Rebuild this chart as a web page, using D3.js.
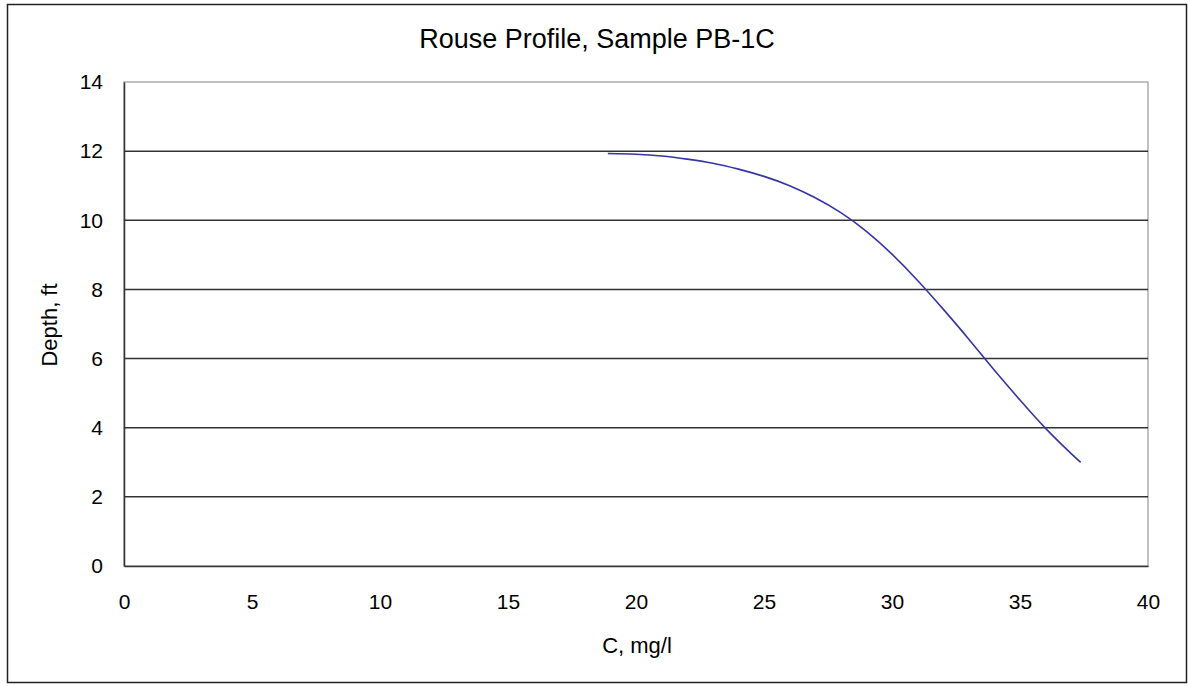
<!DOCTYPE html>
<html>
<head>
<meta charset="utf-8">
<script src="https://cdn.jsdelivr.net/npm/d3@7"></script>
<style>
  html, body { margin: 0; padding: 0; background: #fff; }
  svg { display: block; font-family: "Liberation Sans", Arial, sans-serif; }
</style>
</head>
<body>
<svg id="chart" width="1188" height="686"></svg>
<script>
// ---- data ----
const titleText = "Rouse Profile, Sample PB-1C";
const xLabel = "C, mg/l";
const yLabel = "Depth, ft";
const xTicks = [0, 5, 10, 15, 20, 25, 30, 35, 40];
const yTicks = [0, 2, 4, 6, 8, 10, 12, 14];
const concentration = [18.9, 20, 21, 22, 23, 24, 25, 26, 27, 28, 29, 30, 31, 32, 33, 34, 35, 36, 37, 37.37];
const depth =         [11.93, 11.91, 11.86, 11.77, 11.65, 11.48, 11.27, 11.0, 10.65, 10.22, 9.68, 9.02, 8.26, 7.43, 6.56, 5.66, 4.8, 3.98, 3.25, 3.0];

const svg = d3.select("#chart");
const plot = { left: 124, top: 82, right: 1148, bottom: 566 };

// outer frame
svg.append("rect")
  .attr("x", 7.5).attr("y", 4.5)
  .attr("width", 1179).attr("height", 678)
  .attr("fill", "#fff").attr("stroke", "#222").attr("stroke-width", 1.5);

const x = d3.scaleLinear().domain([0, 40]).range([plot.left, plot.right]);
const y = d3.scaleLinear().domain([0, 14]).range([plot.bottom, plot.top]);

// plot area border (top/right grey)
svg.append("rect")
  .attr("x", plot.left).attr("y", plot.top)
  .attr("width", plot.right - plot.left).attr("height", plot.bottom - plot.top)
  .attr("fill", "#fff").attr("stroke", "#a0a0a0").attr("stroke-width", 1.3);

// gridlines
svg.append("g")
  .selectAll("line")
  .data(yTicks.filter(d => d > 0 && d < 14))
  .join("line")
  .attr("x1", plot.left).attr("x2", plot.right)
  .attr("y1", d => y(d)).attr("y2", d => y(d))
  .attr("stroke", "#333").attr("stroke-width", 1.5);

// axes
const xAxis = svg.append("g")
  .attr("transform", `translate(0,${plot.bottom})`)
  .call(d3.axisBottom(x).tickValues(xTicks).tickSize(0).tickPadding(28).tickFormat(d3.format("d")));
xAxis.select(".domain").attr("stroke", "#333").attr("stroke-width", 1.5);
xAxis.selectAll("text").attr("font-size", 21).attr("fill", "#000")
  .attr("font-family", "Liberation Sans, Arial, sans-serif");

const yAxis = svg.append("g")
  .attr("transform", `translate(${plot.left},0)`)
  .call(d3.axisLeft(y).tickValues(yTicks).tickSize(0).tickPadding(21).tickFormat(d3.format("d")));
yAxis.select(".domain").attr("stroke", "#333").attr("stroke-width", 1.5);
yAxis.selectAll("text").attr("font-size", 21).attr("fill", "#000")
  .attr("font-family", "Liberation Sans, Arial, sans-serif");

// curve
const line = d3.line()
  .x((d, i) => x(concentration[i]))
  .y((d, i) => y(depth[i]))
  .curve(d3.curveNatural);
svg.append("path")
  .datum(depth)
  .attr("d", line)
  .attr("fill", "none")
  .attr("stroke", "#3535a5")
  .attr("stroke-width", 1.6);

// title
svg.append("text")
  .attr("x", 597).attr("y", 48)
  .attr("text-anchor", "middle")
  .attr("font-size", 27)
  .attr("fill", "#000")
  .text(titleText);

// x label
svg.append("text")
  .attr("x", 637).attr("y", 653)
  .attr("text-anchor", "middle")
  .attr("font-size", 22)
  .attr("fill", "#000")
  .text(xLabel);

// y label
svg.append("text")
  .attr("transform", `translate(57,325) rotate(-90)`)
  .attr("text-anchor", "middle")
  .attr("font-size", 22)
  .attr("fill", "#000")
  .text(yLabel);
</script>
</body>
</html>
